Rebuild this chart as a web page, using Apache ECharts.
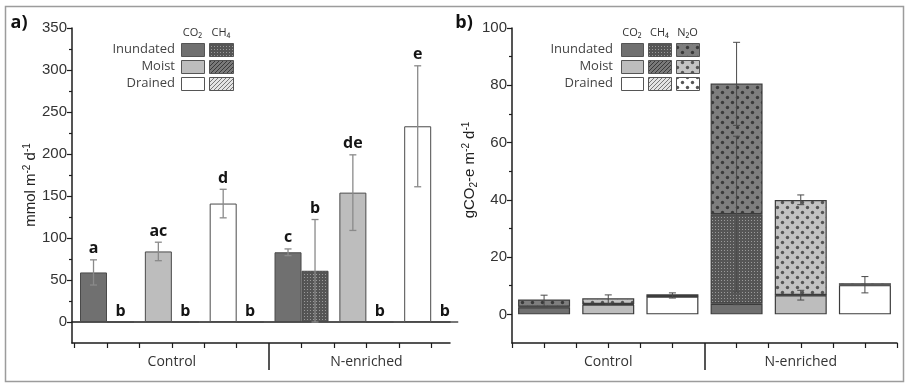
<!DOCTYPE html>
<html><head><meta charset="utf-8">
<script src="https://cdn.jsdelivr.net/npm/echarts@6/dist/echarts.min.js"></script>
<style>html,body{margin:0;padding:0;background:#fff}#c{width:909px;height:387px}</style>
</head><body><div id="c"></div><script>
// ---------------- data ----------------
const groups = ['Control', 'N-enriched'];
const moisture = ['Inundated', 'Moist', 'Drained'];
// bar order: Control Inundated, Moist, Drained, N-enriched Inundated, Moist, Drained
const barNames = ['Control Inundated', 'Control Moist', 'Control Drained', 'N-enriched Inundated', 'N-enriched Moist', 'N-enriched Drained'];
// panel a) mmol m-2 d-1
const aCO2 = [59, 84, 141, 83, 154, 233];
const aCO2Err = [15, 11, 17, 4, 45, 72];
const aCH4 = [0, 0, 0, 61, 0, 0];
const aCH4Err = [0, 0, 0, 61, 0, 0];
const aCO2Letters = ['a', 'ac', 'd', 'c', 'de', 'e'];
const aCH4Letters = ['b', 'b', 'b', 'b', 'b', 'b'];
const aYTicks = [0, 50, 100, 150, 200, 250, 300, 350];
// panel b) gCO2-e m-2 d-1 (stacked)
const bCO2 = [2.5, 3.4, 6.2, 3.7, 6.7, 10.2];
const bCH4 = [0.2, 0.2, 0.1, 31.3, 0.1, 0.1];
const bN2O = [2.5, 2.0, 0.7, 45.6, 33.1, 0.6];
// error bars: [bar index, low, high]
const bErr = [[0, 2.6, 6.7], [1, 3.6, 6.8], [2, 5.7, 7.5], [3, 66, 95], [3, 7.8, 62.2], [3, 3.4, 4.0], [4, 38.3, 41.7], [4, 5.0, 8.4], [5, 7.5, 13.2]];
const bYTicks = [0, 20, 40, 60, 80, 100];

// ---------------- styling helpers ----------------
const FNUM = '"Liberation Sans", Arial, sans-serif';
const FTXT = '"Open Sans", sans-serif';
const AXC = '#1c1c1c';
const TXC = '#333333';

function pattern(bg, size, draw) {
  const c = document.createElement('canvas');
  c.width = size; c.height = size;
  const g = c.getContext('2d');
  g.fillStyle = bg; g.fillRect(0, 0, size, size);
  draw(g, size);
  return { image: c, repeat: 'repeat' };
}
function dots(col) {
  return (g) => {
    g.fillStyle = col;
    [[2.5, 2.5], [7.5, 7.5]].forEach(p => { g.beginPath(); g.arc(p[0], p[1], 1.7, 0, Math.PI * 2); g.fill(); });
  };
}
function diag(col) {
  return (g, s) => { g.fillStyle = col; for (let k = 0; k < s; k++) g.fillRect(k, s - 1 - k, 1, 1); };
}
const co2Fill = ['#707070', '#bdbdbd', '#ffffff'];
const ch4Fill = [
  pattern('#555555', 3, (g) => { g.fillStyle = '#9a9a9a'; g.fillRect(1, 1, 1, 1); }),
  pattern('#7a7a7a', 4, diag('#3a3a3a')),
  pattern('#e4e4e4', 4, diag('#777777'))
];
const n2oFill = [
  pattern('#7e7e7e', 10, dots('#3a3a3a')),
  pattern('#c3c3c3', 10, dots('#555555')),
  pattern('#ffffff', 10, dots('#555555'))
];
const catX = i => i + 0.5;

// tick positions (category boundaries and centres), divider at group boundary
const nCat = aCO2.length;
const mainTicks = [];
for (let i = 0; i <= nCat; i++) { if (i !== nCat / 2) mainTicks.push(i); if (i < nCat) mainTicks.push(i + 0.5); }
const groupLabelPos = groups.map((g, k) => (k + 0.5) * nCat / groups.length);
const groupName = v => groups[Math.floor(v / (nCat / groups.length))];

// ---------------- marks ----------------
const aMarks = [], aMarkLetters = [];
aCO2.forEach((v, i) => { aMarks.push([catX(i), v - aCO2Err[i], v + aCO2Err[i], -1]); aMarkLetters.push(aCO2Letters[i]); });
aCH4.forEach((v, i) => { aMarks.push([catX(i), v - aCH4Err[i], v + aCH4Err[i], 1]); aMarkLetters.push(aCH4Letters[i]); });
const bMarks = bErr.map(e => [catX(e[0]), e[1], e[2]]);

function ln(x1, y1, x2, y2, col, w) {
  return { type: 'line', shape: { x1, y1, x2, y2 }, style: { stroke: col, lineWidth: w } };
}
function renderA(params, api) {
  const x = api.value(0), lo = api.value(1), hi = api.value(2), side = api.value(3);
  const pLo = api.coord([x, lo]), pHi = api.coord([x, hi]);
  const cx = pLo[0] + side * 27 / 2;
  const ch = [];
  const col = '#8a8a8a';
  if (hi - lo > 0) {
    ch.push(ln(cx, pLo[1], cx, pHi[1], col, 1.3));
    ch.push(ln(cx - 3.5, pHi[1], cx + 3.5, pHi[1], col, 1.3));
    ch.push(ln(cx - 3.5, pLo[1], cx + 3.5, pLo[1], col, 1.3));
  }
  ch.push({ type: 'text', style: { text: aMarkLetters[params.dataIndex], x: cx, y: pHi[1] - 3,
    textAlign: 'center', textVerticalAlign: 'bottom', font: 'bold 16px ' + FTXT, fill: '#151515' } });
  return { type: 'group', children: ch };
}
function renderB(params, api) {
  const x = api.value(0), lo = api.value(1), hi = api.value(2);
  const pLo = api.coord([x, lo]), pHi = api.coord([x, hi]);
  const cx = pLo[0];
  const col = '#4a4a4a';
  return { type: 'group', children: [
    ln(cx, pLo[1], cx, pHi[1], col, 1),
    ln(cx - 3.5, pHi[1], cx + 3.5, pHi[1], col, 1),
    ln(cx - 3.5, pLo[1], cx + 3.5, pLo[1], col, 1)
  ] };
}

// ---------------- legend tables & titles (graphic) ----------------
const graphic = [];
graphic.push({ type: 'rect', shape: { x: 5.5, y: 6.5, width: 898, height: 375 }, style: { fill: 'none', stroke: '#9c9c9c', lineWidth: 1.5 }, silent: true });
graphic.push({ type: 'text', style: { text: 'a)', x: 19, y: 23, textAlign: 'center', textVerticalAlign: 'middle', font: 'bold 18px ' + FTXT, fill: '#111' } });
graphic.push({ type: 'text', style: { text: 'b)', x: 464, y: 23, textAlign: 'center', textVerticalAlign: 'middle', font: 'bold 18px ' + FTXT, fill: '#111' } });
const richT = {
  n: { fontSize: 15, fontFamily: FNUM, fill: '#222', lineHeight: 18 },
  s: { fontSize: 10, fontFamily: FNUM, fill: '#222', lineHeight: 10, verticalAlign: 'top' },
  d: { fontSize: 10, fontFamily: FNUM, fill: '#222', lineHeight: 10, verticalAlign: 'bottom' }
};
graphic.push({ type: 'text', x: 31, y: 185, rotation: Math.PI / 2,
  style: { text: '{n|mmol m}{s|-2}{n| d}{s|-1}', rich: richT, textAlign: 'center', textVerticalAlign: 'middle' } });
graphic.push({ type: 'text', x: 470, y: 170, rotation: Math.PI / 2,
  style: { text: '{n|gCO}{d|2}{n|-e m}{s|-2}{n| d}{s|-1}', rich: richT, textAlign: 'center', textVerticalAlign: 'middle' } });

function legendTable(labelRight, cols, headers, fills) {
  headers.forEach((h, c) => {
    graphic.push({ type: 'text', style: { text: h, x: cols[c][0] + cols[c][1] / 2, y: 33, textAlign: 'center', textVerticalAlign: 'middle', font: '11px ' + FTXT, fill: TXC } });
  });
  moisture.forEach((m, r) => {
    const y = 43 + 17 * r;
    graphic.push({ type: 'text', style: { text: m, x: labelRight, y: y + 6.5, textAlign: 'right', textVerticalAlign: 'middle', font: '13px ' + FTXT, fill: '#444' } });
    fills.forEach((f, c) => {
      graphic.push({ type: 'rect', shape: { x: cols[c][0] + 0.5, y: y + 0.5, width: cols[c][1], height: 13 }, style: { fill: f[r], stroke: '#555', lineWidth: 1 } });
    });
  });
}
legendTable(175, [[181, 23], [209, 24]], ['CO₂', 'CH₄'], [co2Fill, ch4Fill]);
legendTable(613, [[621, 22], [648, 23], [676, 23]], ['CO₂', 'CH₄', 'N₂O'], [co2Fill, ch4Fill, n2oFill]);

// ---------------- axes ----------------
function xMain(grid, min, max) {
  return { type: 'value', gridIndex: grid, min, max, position: 'bottom',
    axisLine: { show: true, onZero: false, lineStyle: { color: AXC, width: 1.5 } },
    axisTick: { show: true, customValues: mainTicks.filter(v => v >= min && v <= max), length: 5, lineStyle: { color: AXC, width: 1.2 } },
    axisLabel: { customValues: groupLabelPos, formatter: groupName, fontFamily: FTXT, fontSize: 14, color: TXC, margin: 12 },
    splitLine: { show: false } };
}
function xDivider(grid, min, max) {
  return { type: 'value', gridIndex: grid, min, max, position: 'bottom',
    axisLine: { show: false, onZero: false },
    axisTick: { show: true, customValues: [nCat / 2], length: 27, lineStyle: { color: AXC, width: 1.5 } },
    axisLabel: { show: false }, splitLine: { show: false } };
}
function yMain(grid, min, max, ticks) {
  return { type: 'value', gridIndex: grid, min, max, position: 'left',
    axisLine: { show: true, onZero: false, lineStyle: { color: AXC, width: 1.5 } },
    axisTick: { show: true, customValues: ticks, length: 5, lineStyle: { color: AXC, width: 1.2 } },
    axisLabel: { customValues: ticks, fontFamily: FNUM, fontSize: 15, color: TXC, margin: 5 },
    splitLine: { show: false } };
}
function yMinor(grid, min, max, ticks) {
  const step = ticks[1] - ticks[0];
  return { type: 'value', gridIndex: grid, min, max, position: 'left',
    axisLine: { show: false, onZero: false },
    axisTick: { show: true, customValues: ticks.slice(0, -1).map(v => v + step / 2), length: 3, lineStyle: { color: AXC, width: 1.2 } },
    axisLabel: { show: false }, splitLine: { show: false } };
}

const aXMin = -0.04, aXMax = 5.79;
const option = {
  animation: false,
  backgroundColor: '#ffffff',
  grid: [
    { left: 72, top: 28, width: 378, bottom: 44 },
    { left: 512, top: 28, width: 385, bottom: 44 }
  ],
  xAxis: [
    xMain(0, aXMin, aXMax),
    { type: 'value', gridIndex: 0, min: aXMin, max: aXMax, position: 'bottom',
      axisLine: { show: true, onZero: true, lineStyle: { color: AXC, width: 1.5 } },
      axisTick: { show: false }, axisLabel: { show: false }, splitLine: { show: false } },
    xDivider(0, aXMin, aXMax),
    xMain(1, 0, nCat),
    xDivider(1, 0, nCat),
    { type: 'category', gridIndex: 1, data: barNames, position: 'bottom', show: false, boundaryGap: true }
  ],
  yAxis: [
    yMain(0, -25, 350, aYTicks),
    yMinor(0, -25, 350, aYTicks),
    yMain(1, -10, 100, bYTicks),
    yMinor(1, -10, 100, bYTicks)
  ],
  graphic: { elements: graphic },
  series: [
    { type: 'bar', name: 'CO2', xAxisIndex: 0, yAxisIndex: 0, barWidth: 27, barGap: '0%',
      itemStyle: { borderColor: '#4a4a4a', borderWidth: 1 },
      data: aCO2.map((v, i) => ({ value: [catX(i), v], itemStyle: { color: co2Fill[i % 3] } })) },
    { type: 'bar', name: 'CH4', xAxisIndex: 0, yAxisIndex: 0, barWidth: 27, barGap: '0%',
      itemStyle: { borderColor: '#4a4a4a', borderWidth: 1 },
      data: aCH4.map((v, i) => ({ value: [catX(i), v], itemStyle: { color: ch4Fill[i % 3] } })) },
    { type: 'custom', xAxisIndex: 0, yAxisIndex: 0, z: 5, data: aMarks, renderItem: renderA },

    { type: 'bar', name: 'CO2 b', xAxisIndex: 5, yAxisIndex: 2, stack: 'b', barWidth: 52,
      itemStyle: { borderColor: '#3c3c3c', borderWidth: 1.2 },
      data: bCO2.map((v, i) => ({ value: v, itemStyle: { color: co2Fill[i % 3] } })) },
    { type: 'bar', name: 'CH4 b', xAxisIndex: 5, yAxisIndex: 2, stack: 'b', barWidth: 52,
      itemStyle: { borderColor: '#3c3c3c', borderWidth: 1.2 },
      data: bCH4.map((v, i) => ({ value: v, itemStyle: { color: ch4Fill[i % 3] } })) },
    { type: 'bar', name: 'N2O b', xAxisIndex: 5, yAxisIndex: 2, stack: 'b', barWidth: 52,
      itemStyle: { borderColor: '#3c3c3c', borderWidth: 1.2 },
      data: bN2O.map((v, i) => ({ value: v, itemStyle: { color: n2oFill[i % 3] } })) },
    { type: 'custom', xAxisIndex: 3, yAxisIndex: 2, z: 5, data: bMarks, renderItem: renderB }
  ]
};
const chart = echarts.init(document.getElementById('c'), null, { renderer: 'canvas' });
chart.setOption(option);
</script></body></html>
